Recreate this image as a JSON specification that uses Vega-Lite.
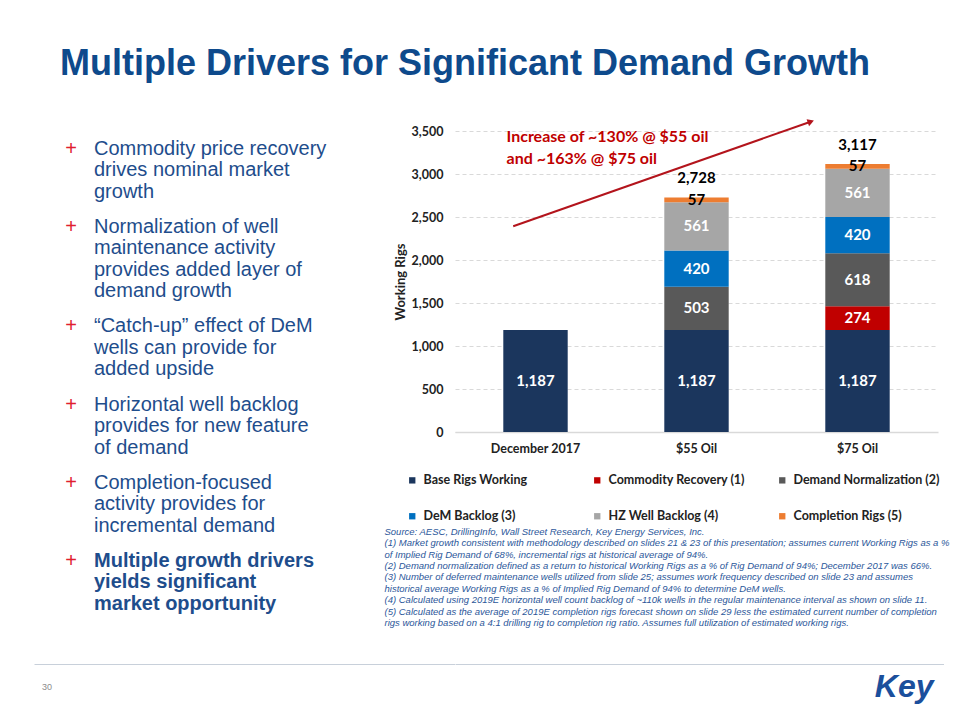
{
  "$schema": "https://vega.github.io/schema/vega-lite/v6.json",
  "background": "white",
  "padding": {"left": 34, "top": 46, "right": 10, "bottom": 5},
  "title": {
    "text": "Multiple Drivers for Significant Demand Growth",
    "anchor": "start",
    "frame": "group",
    "font": "Liberation Sans",
    "fontSize": 36,
    "fontWeight": "bold",
    "color": "#0E4A8C",
    "dx": 26,
    "offset": 8,
    "baseline": "alphabetic"
  },
  "config": {"view": {"stroke": null}, "font": "Lato"},
  "bounds": "flush",
  "columns": 2,
  "spacing": {"row": 0, "column": 0},
  "concat": [
    {
      "width": 420.5,
      "height": 301,
      "data": {"values": [
        {"item": 0, "line": 0, "n": 1, "text": "Commodity price recovery"},
        {"item": 0, "line": 1, "n": 2, "text": "drives nominal market"},
        {"item": 0, "line": 2, "n": 3, "text": "growth"},
        {"item": 1, "line": 3, "n": 1, "text": "Normalization of well"},
        {"item": 1, "line": 4, "n": 2, "text": "maintenance activity"},
        {"item": 1, "line": 5, "n": 3, "text": "provides added layer of"},
        {"item": 1, "line": 6, "n": 4, "text": "demand growth"},
        {"item": 2, "line": 7, "n": 1, "text": "“Catch-up” effect of DeM"},
        {"item": 2, "line": 8, "n": 2, "text": "wells can provide for"},
        {"item": 2, "line": 9, "n": 3, "text": "added upside"},
        {"item": 3, "line": 10, "n": 1, "text": "Horizontal well backlog"},
        {"item": 3, "line": 11, "n": 2, "text": "provides for new feature"},
        {"item": 3, "line": 12, "n": 3, "text": "of demand"},
        {"item": 4, "line": 13, "n": 1, "text": "Completion-focused"},
        {"item": 4, "line": 14, "n": 2, "text": "activity provides for"},
        {"item": 4, "line": 15, "n": 3, "text": "incremental demand"},
        {"item": 5, "line": 16, "n": 1, "text": "Multiple growth drivers"},
        {"item": 5, "line": 17, "n": 2, "text": "yields significant"},
        {"item": 5, "line": 18, "n": 3, "text": "market opportunity"}
      ]},
      "transform": [{"calculate": "datum.line + datum.item * 0.628", "as": "pos"}],
      "encoding": {
        "y": {"field": "pos", "type": "quantitative", "scale": {"domain": [-0.837, 13.163], "reverse": true, "zero": false, "nice": false}, "axis": null}
      },
      "layer": [
        {
          "transform": [{"filter": "datum.n == 1"}],
          "mark": {"type": "text", "text": "+", "align": "center", "baseline": "middle", "x": 0, "dx": 37, "font": "Liberation Sans", "fontSize": 20, "color": "#E0202E"}
        },
        {
          "transform": [{"filter": "datum.item < 5"}],
          "mark": {"type": "text", "align": "left", "baseline": "middle", "x": 0, "dx": 60, "font": "Liberation Sans", "fontSize": 20, "fontWeight": "normal", "color": "#1E4D8C"},
          "encoding": {"text": {"field": "text"}}
        },
        {
          "transform": [{"filter": "datum.item == 5"}],
          "mark": {"type": "text", "align": "left", "baseline": "middle", "x": 0, "dx": 60, "font": "Liberation Sans", "fontSize": 20, "fontWeight": "bold", "color": "#1E4D8C"},
          "encoding": {"text": {"field": "text"}}
        }
      ]
    },
    {
      "width": 483,
      "height": 301,
      "resolve": {"scale": {"x": "independent"}},
      "layer": [
        {
          "data": {"values": [
            {"cat": "December 2017", "series": "Base Rigs Working", "k": 1, "value": 1187},
            {"cat": "$55 Oil", "series": "Base Rigs Working", "k": 1, "value": 1187},
            {"cat": "$55 Oil", "series": "Demand Normalization (2)", "k": 3, "value": 503},
            {"cat": "$55 Oil", "series": "DeM Backlog (3)", "k": 4, "value": 420},
            {"cat": "$55 Oil", "series": "HZ Well Backlog (4)", "k": 5, "value": 561},
            {"cat": "$55 Oil", "series": "Completion Rigs (5)", "k": 6, "value": 57},
            {"cat": "$75 Oil", "series": "Base Rigs Working", "k": 1, "value": 1187},
            {"cat": "$75 Oil", "series": "Commodity Recovery (1)", "k": 2, "value": 274},
            {"cat": "$75 Oil", "series": "Demand Normalization (2)", "k": 3, "value": 618},
            {"cat": "$75 Oil", "series": "DeM Backlog (3)", "k": 4, "value": 420},
            {"cat": "$75 Oil", "series": "HZ Well Backlog (4)", "k": 5, "value": 561},
            {"cat": "$75 Oil", "series": "Completion Rigs (5)", "k": 6, "value": 57}
          ]},
          "encoding": {
            "x": {
              "field": "cat", "type": "nominal",
              "sort": ["December 2017", "$55 Oil", "$75 Oil"],
              "scale": {"paddingInner": 0.6, "paddingOuter": 0.3},
              "axis": {"title": null, "labelAngle": 0, "labelFont": "Lato", "labelFontWeight": "bold", "labelFontSize": 12.5, "labelColor": "#222222", "ticks": false, "domainColor": "#D9D9D9", "domainWidth": 1.5, "labelPadding": 10, "grid": false}
            }
          },
          "layer": [
            {
              "mark": {"type": "bar"},
              "encoding": {
                "y": {
                  "field": "value", "type": "quantitative", "stack": "zero",
                  "scale": {"domain": [0, 3500], "nice": false},
                  "axis": {"title": "Working Rigs", "titleFont": "Lato", "titleFontWeight": "bold", "titleFontSize": 13, "titleColor": "#222222", "titlePadding": 4, "values": [0, 500, 1000, 1500, 2000, 2500, 3000, 3500], "format": ",.0f", "labelFont": "Lato", "labelFontWeight": "bold", "labelFontSize": 12.5, "labelColor": "#222222", "labelPadding": 12, "ticks": false, "domain": false, "grid": true, "gridColor": "#D9D9D9", "gridDash": [4, 3]}
                },
                "color": {
                  "field": "series", "type": "nominal",
                  "scale": {
                    "domain": ["Base Rigs Working", "Commodity Recovery (1)", "Demand Normalization (2)", "DeM Backlog (3)", "HZ Well Backlog (4)", "Completion Rigs (5)"],
                    "range": ["#1B365D", "#C00000", "#595959", "#0070C0", "#A6A6A6", "#ED7D31"]
                  },
                  "legend": {"orient": "none", "legendX": 372, "legendY": 343, "direction": "horizontal", "columns": 3, "title": null, "symbolType": "square", "symbolSize": 40, "symbolStrokeWidth": 0, "labelFont": "Lato", "labelFontWeight": "bold", "labelFontSize": 12.5, "labelColor": "#222222", "columnPadding": 21, "rowPadding": 23, "labelOffset": 5, "gridAlign": "all", "padding": 0, "labelLimit": 300}
                },
                "order": {"field": "k", "type": "quantitative"}
              }
            },
            {
              "transform": [
                {"window": [{"op": "sum", "field": "value", "as": "cum"}], "groupby": ["cat"], "sort": [{"field": "k"}]},
                {"calculate": "datum.cum - datum.value / 2", "as": "mid"}
              ],
              "mark": {"type": "text", "font": "Lato", "fontWeight": "bold", "fontSize": 15, "baseline": "middle"},
              "encoding": {
                "y": {"field": "mid", "type": "quantitative", "scale": {"domain": [0, 3500], "nice": false}},
                "text": {"field": "value", "type": "quantitative", "format": ","},
                "color": {"condition": {"test": "datum.series === 'Completion Rigs (5)'", "value": "#000000"}, "value": "#FFFFFF"}
              }
            },
            {
              "transform": [
                {"filter": "datum.cat !== 'December 2017'"},
                {"aggregate": [{"op": "sum", "field": "value", "as": "total"}], "groupby": ["cat"]}
              ],
              "mark": {"type": "text", "font": "Lato", "fontWeight": "bold", "fontSize": 15, "baseline": "middle", "dy": -19, "color": "#000000"},
              "encoding": {
                "y": {"field": "total", "type": "quantitative", "scale": {"domain": [0, 3500], "nice": false}},
                "text": {"field": "total", "type": "quantitative", "format": ","}
              }
            }
          ]
        },
        {
          "layer": [
            {
              "data": {"values": [{"x0": 0.3615, "y0": 2392, "x1": 2.204, "y1": 3605}]},
              "mark": {"type": "rule", "color": "#B3141C", "strokeWidth": 2},
              "encoding": {
                "x": {"field": "x0", "type": "quantitative", "scale": {"domain": [0, 3], "nice": false, "zero": false}, "axis": null},
                "x2": {"field": "x1"},
                "y": {"field": "y0", "type": "quantitative", "scale": {"domain": [0, 3500], "nice": false}},
                "y2": {"field": "y1"}
              }
            },
            {
              "data": {"values": [{"x1": 2.204, "y1": 3605}]},
              "mark": {"type": "point", "shape": "triangle", "filled": true, "size": 55, "angle": 70.6, "color": "#B3141C", "opacity": 1},
              "encoding": {
                "x": {"field": "x1", "type": "quantitative", "scale": {"domain": [0, 3], "nice": false, "zero": false}, "axis": null},
                "y": {"field": "y1", "type": "quantitative", "scale": {"domain": [0, 3500], "nice": false}}
              }
            },
            {
              "data": {"values": [
                {"t": "Increase of ~130% @ $55 oil", "ax": 0.32, "ay": 3430},
                {"t": "and ~163% @ $75 oil", "ax": 0.32, "ay": 3174}
              ]},
              "mark": {"type": "text", "align": "left", "baseline": "middle", "font": "Lato", "fontWeight": "bold", "fontSize": 16, "color": "#C00000"},
              "encoding": {
                "x": {"field": "ax", "type": "quantitative", "scale": {"domain": [0, 3], "nice": false, "zero": false}, "axis": null},
                "y": {"field": "ay", "type": "quantitative", "scale": {"domain": [0, 3500], "nice": false}},
                "text": {"field": "t"}
              }
            }
          ]
        }
      ]
    },
    {
      "width": 420.5,
      "height": 10,
      "data": {"values": []},
      "mark": {"type": "text"}
    },
    {
      "width": 483,
      "height": 232,
      "data": {"values": [
        {"i": 0, "t": "Source: AESC, DrillingInfo, Wall Street Research, Key Energy Services, Inc."},
        {"i": 1, "t": "(1) Market growth consistent with methodology described on slides 21 & 23 of this presentation; assumes current Working Rigs as a %"},
        {"i": 2, "t": "of Implied Rig Demand of 68%, incremental rigs at historical average of 94%."},
        {"i": 3, "t": "(2) Demand normalization defined as a return to historical Working Rigs as a % of Rig Demand of 94%; December 2017 was 66%."},
        {"i": 4, "t": "(3) Number of deferred maintenance wells utilized from slide 25; assumes work frequency described on slide 23 and assumes"},
        {"i": 5, "t": "historical average Working Rigs as a % of Implied Rig Demand of 94% to determine DeM wells."},
        {"i": 6, "t": "(4) Calculated using 2019E horizontal well count backlog of ~110k wells in the regular maintenance interval as shown on slide 11."},
        {"i": 7, "t": "(5) Calculated as the average of 2019E completion rigs forecast shown on slide 29 less the estimated current number of completion"},
        {"i": 8, "t": "rigs working based on a 4:1 drilling rig to completion rig ratio. Assumes full utilization of estimated working rigs."}
      ]},
      "mark": {"type": "text", "align": "left", "baseline": "middle", "x": 0, "dx": -70.5, "font": "Liberation Sans", "fontStyle": "italic", "fontSize": 9.5, "color": "#2B579A"},
      "encoding": {
        "y": {"field": "i", "type": "quantitative", "scale": {"domain": [-8.707, 11.555], "reverse": true, "zero": false, "nice": false}, "axis": null},
        "text": {"field": "t"}
      }
    },
    {
      "width": 420.5,
      "height": 45,
      "data": {"values": [{"side": "left", "label": "30"}]},
      "mark": {"type": "text", "align": "left", "baseline": "middle", "dx": 8, "font": "Liberation Sans", "fontSize": 9, "color": "#8C8C8C"},
      "encoding": {
        "x": {"field": "side", "type": "nominal", "scale": {"type": "point", "domain": ["left", "right"], "padding": 0}, "axis": {"orient": "top", "labels": false, "ticks": false, "title": null, "domainColor": "#C8D0DA", "domainWidth": 1}},
        "text": {"field": "label"}
      }
    },
    {
      "width": 488.5,
      "height": 45,
      "data": {"values": [{"side": "right", "label": "Key"}]},
      "mark": {"type": "text", "align": "right", "baseline": "middle", "dx": -10, "font": "Liberation Sans", "fontSize": 32, "fontWeight": "bold", "fontStyle": "italic", "color": "#1B4F9C"},
      "encoding": {
        "x": {"field": "side", "type": "nominal", "scale": {"type": "point", "domain": ["left", "right"], "padding": 0}, "axis": {"orient": "top", "labels": false, "ticks": false, "title": null, "domainColor": "#C8D0DA", "domainWidth": 1}},
        "text": {"field": "label"}
      }
    }
  ]
}
